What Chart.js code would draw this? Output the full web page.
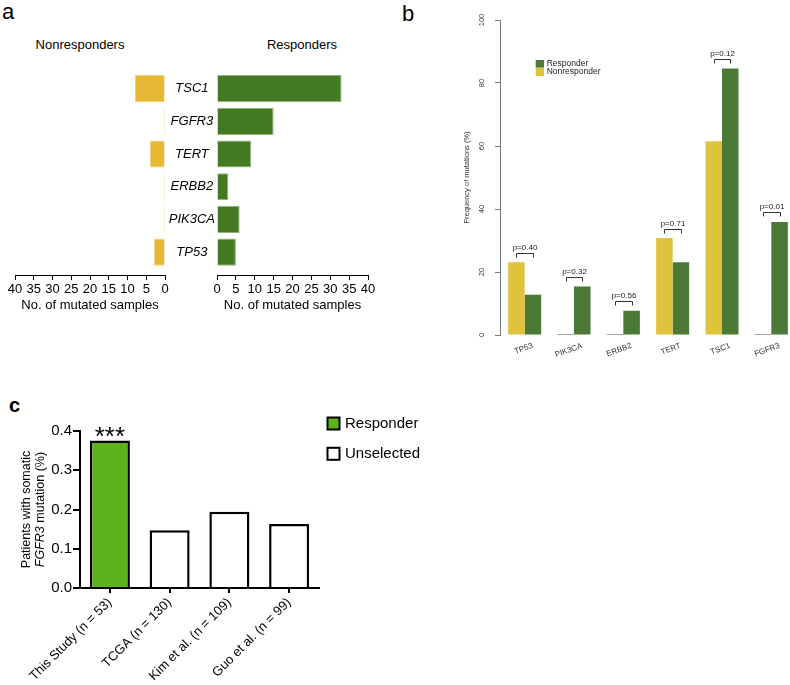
<!DOCTYPE html>
<html>
<head>
<meta charset="utf-8">
<script src="https://cdn.jsdelivr.net/npm/chart.js@4.4.1/dist/chart.umd.min.js"></script>
<style>
  body { margin:0; width:790px; height:685px; overflow:hidden; position:relative; background:#fff;
         font-family:"Liberation Sans", Arial, sans-serif; }
  canvas { position:absolute; }
  .letter { position:absolute; font-size:22px; line-height:1; color:#000; }
  .head { position:absolute; font-size:13px; line-height:1; color:#000; transform:translateX(-50%); white-space:nowrap; }
</style>
</head>
<body>
<div class="letter" style="left:2px;top:1px">a</div>
<div class="letter" style="left:402px;top:3px">b</div>
<div class="letter" style="left:9px;top:395px;font-size:20px;font-weight:bold">c</div>
<div class="head" style="left:80px;top:38px">Nonresponders</div>
<div class="head" style="left:302px;top:38px">Responders</div>

<canvas id="aLeft" width="180" height="320" style="left:0;top:0"></canvas>
<canvas id="aRight" width="240" height="320" style="left:150px;top:0"></canvas>
<canvas id="bChart" width="360" height="365" style="left:440px;top:0"></canvas>
<canvas id="cChart" width="440" height="305" style="left:0;top:380px"></canvas>

<script>
// panel a: number of mutated samples
const genesA = ['TSC1', 'FGFR3', 'TERT', 'ERBB2', 'PIK3CA', 'TP53'];
const nonRespA = [8, 0, 4, 0, 0, 3];
const respA = [33, 15, 9, 3, 6, 5];

// panel b: frequency of mutations (%)
const genesB = ['TP53', 'PIK3CA', 'ERBB2', 'TERT', 'TSC1', 'FGFR3'];
const nonRespB = [23.1, 0, 0, 30.8, 61.5, 0];
const respB = [12.8, 15.4, 7.7, 23.1, 84.6, 35.9];
const pValuesB = ['0.40', '0.32', '0.56', '0.71', '0.12', '0.01'];

// panel c: patients with somatic FGFR3 mutation
const cohortsC = ['This Study (n = 53)', 'TCGA (n = 130)', 'Kim et al. (n = 109)', 'Guo et al. (n = 99)'];
const fgfr3C = [0.376, 0.147, 0.194, 0.163];
const groupsC = ['Responder', 'Unselected'];

const FONT = '"Liberation Sans", Arial, sans-serif';
Chart.defaults.font.family = FONT;
Chart.defaults.color = '#000';
Chart.defaults.animation = false;
Chart.defaults.responsive = false;
Chart.defaults.plugins.legend.display = false;
Chart.defaults.plugins.tooltip.enabled = false;

// ---- panel a ----
function geneAxis(show) {
  const axis = {
    type: 'linear', min: -0.6, max: 5.7, reverse: true, offset: false, display: show,
    afterBuildTicks: s => { s.ticks = genesA.map((g, i) => ({ value: i })); },
    ticks: { callback: v => genesA[v], font: { size: 13, style: 'italic' }, crossAlign: 'center', padding: -6, color: '#000' },
    grid: { display: false, offset: false },
    border: { display: false }
  };
  if (show) axis.afterFit = s => { s.width = 52; };
  return axis;
}
function countAxis(rev) {
  return {
    type: 'linear', min: 0, max: 40, reverse: rev,
    ticks: { stepSize: 5, autoSkip: false, maxRotation: 0, font: { size: 13 }, padding: 2, color: '#000' },
    grid: { drawOnChartArea: false, tickLength: 5, color: '#000' },
    border: { color: '#000' },
    title: { display: true, text: 'No. of mutated samples', font: { size: 13 }, padding: { top: 0, bottom: 2 }, color: '#000' },
    afterFit: s => { s.height = 40; }
  };
}
function barsA(values, fill, edge, zero) {
  return {
    data: values.map((v, i) => ({ x: v, y: i })),
    backgroundColor: c => (c.raw && c.raw.x === 0 ? zero : fill),
    borderColor: edge,
    borderWidth: c => (c.raw && c.raw.x === 0 ? 0 : 1),
    minBarLength: 1,
    categoryPercentage: 0.83,
    barPercentage: 1
  };
}

new Chart(document.getElementById('aLeft'), {
  type: 'bar',
  data: { datasets: [barsA(nonRespA, '#e6b833', '#f0d378', '#f3e2a4')] },
  options: {
    indexAxis: 'y',
    layout: { padding: { left: 15, right: 15, top: 69, bottom: 5 } },
    scales: { x: countAxis(true), y: geneAxis(false) }
  }
});

new Chart(document.getElementById('aRight'), {
  type: 'bar',
  data: { datasets: [barsA(respA, '#437a22', '#8fb57b', '#b5cfa5')] },
  options: {
    indexAxis: 'y',
    layout: { padding: { left: 15, right: 22, top: 69, bottom: 5 } },
    scales: { x: countAxis(false), y: geneAxis(true) }
  }
});

// ---- panel b ----
const yTicksB = {
  id: 'yTicksB',
  afterDraw(chart) {
    const s = chart.scales.y, ctx = chart.ctx;
    ctx.save();
    ctx.font = '7.5px ' + FONT;
    ctx.fillStyle = '#333';
    ctx.textAlign = 'center';
    ctx.textBaseline = 'middle';
    s.ticks.forEach(t => {
      ctx.save();
      ctx.translate(s.right - 18.5, s.getPixelForValue(t.value));
      ctx.rotate(-Math.PI / 2);
      ctx.fillText(String(t.value), 0, 0);
      ctx.restore();
    });
    ctx.restore();
  }
};
const bracketsB = {
  id: 'bracketsB',
  afterDatasetsDraw(chart) {
    const ctx = chart.ctx, y = chart.scales.y;
    const m0 = chart.getDatasetMeta(0), m1 = chart.getDatasetMeta(1);
    ctx.save();
    ctx.strokeStyle = '#333';
    ctx.lineWidth = 1;
    ctx.fillStyle = '#222';
    ctx.font = '8px ' + FONT;
    ctx.textAlign = 'center';
    ctx.textBaseline = 'alphabetic';
    genesB.forEach((g, i) => {
      const x1 = Math.round(m0.data[i].x) + 0.5, x2 = Math.round(m1.data[i].x) + 0.5;
      const yy = Math.round(y.getPixelForValue(Math.max(nonRespB[i], respB[i]) + 3)) + 0.5;
      ctx.beginPath();
      ctx.moveTo(x1, yy + 4); ctx.lineTo(x1, yy); ctx.lineTo(x2, yy); ctx.lineTo(x2, yy + 4);
      ctx.stroke();
      ctx.fillText('p=' + pValuesB[i], (x1 + x2) / 2, yy - 4);
    });
    ctx.restore();
  }
};
const legendB = {
  id: 'legendB',
  afterDraw(chart) {
    const ctx = chart.ctx;
    const x = 95.7, y = 60;
    ctx.save();
    ctx.fillStyle = '#4b7a37'; ctx.fillRect(x, y, 8.3, 7.7);
    ctx.fillStyle = '#e0c33d'; ctx.fillRect(x, y + 7.7, 8.3, 8.3);
    ctx.fillStyle = '#222';
    ctx.font = '8.5px ' + FONT;
    ctx.textBaseline = 'middle';
    ctx.fillText('Responder', x + 11, y + 4);
    ctx.fillText('Nonresponder', x + 11, y + 12);
    ctx.restore();
  }
};
function barsB(label, values, fill) {
  return {
    label, data: values,
    backgroundColor: c => (c.raw === 0 ? '#444' : fill),
    minBarLength: 1,
    categoryPercentage: 0.67,
    barPercentage: 1
  };
}
new Chart(document.getElementById('bChart'), {
  type: 'bar',
  data: {
    labels: genesB,
    datasets: [barsB('Nonresponder', nonRespB, '#e0c33d'), barsB('Responder', respB, '#4b7a37')]
  },
  options: {
    layout: { padding: { left: 20, right: 4, top: 20, bottom: 0 } },
    scales: {
      x: {
        grid: { display: false }, border: { display: false },
        ticks: { font: { size: 8 }, color: '#333', minRotation: 20, maxRotation: 20, labelOffset: 8, padding: -2, autoSkip: false },
        afterFit: s => { s.height = 30; }
      },
      y: {
        min: 0, max: 100,
        ticks: { stepSize: 20, display: false },
        grid: { drawOnChartArea: false, tickLength: 5, color: '#777' },
        border: { color: '#777' },
        title: { display: true, text: 'Frequency of mutations (%)', font: { size: 7.5 }, color: '#333', padding: { top: 2, bottom: 0 } },
        afterFit: s => { s.width = 40; }
      }
    }
  },
  plugins: [yTicksB, bracketsB, legendB]
});

// ---- panel c ----
const decorC = {
  id: 'decorC',
  afterDraw(chart) {
    const ctx = chart.ctx, area = chart.chartArea;
    const bar0 = chart.getDatasetMeta(0).data[0];
    ctx.save();
    // significance stars
    ctx.fillStyle = '#000';
    ctx.font = '26px ' + FONT;
    ctx.textAlign = 'center';
    ctx.textBaseline = 'alphabetic';
    ctx.fillText('***', bar0.x, bar0.y + 5);
    // y axis title, two rotated lines
    const cy = (area.top + area.bottom) / 2;
    ctx.save();
    ctx.translate(27, cy);
    ctx.rotate(-Math.PI / 2);
    ctx.font = '12.5px ' + FONT;
    ctx.textBaseline = 'middle';
    ctx.fillText('Patients with somatic', 0, 0);
    ctx.restore();
    ctx.save();
    ctx.translate(41, cy);
    ctx.rotate(-Math.PI / 2);
    ctx.textBaseline = 'middle';
    ctx.textAlign = 'left';
    ctx.font = 'italic 12.5px ' + FONT;
    const w1 = ctx.measureText('FGFR3').width;
    ctx.font = '12.5px ' + FONT;
    const w2 = ctx.measureText(' mutation (%)').width;
    const start = -(w1 + w2) / 2;
    ctx.font = 'italic 12.5px ' + FONT;
    ctx.fillText('FGFR3', start, 0);
    ctx.font = '12.5px ' + FONT;
    ctx.fillText(' mutation (%)', start + w1, 0);
    ctx.restore();
    // legend
    const fills = ['#5db31e', '#fff'];
    ctx.lineWidth = 2;
    ctx.strokeStyle = '#000';
    ctx.font = '15px ' + FONT;
    ctx.textAlign = 'left';
    ctx.textBaseline = 'middle';
    groupsC.forEach((g, i) => {
      const y = 37.5 + i * 30.3;
      ctx.fillStyle = fills[i];
      ctx.fillRect(327.5, y, 12, 12);
      ctx.strokeRect(327.5, y, 12, 12);
      ctx.fillStyle = '#000';
      ctx.fillText(g, 345, y + 6.5);
    });
    ctx.restore();
  }
};
new Chart(document.getElementById('cChart'), {
  type: 'bar',
  data: {
    labels: cohortsC,
    datasets: [{
      data: fgfr3C,
      backgroundColor: fgfr3C.map((v, i) => (i === 0 ? '#5db31e' : '#fff')),
      borderColor: '#000',
      borderWidth: 2.5,
      categoryPercentage: 0.67,
      barPercentage: 1
    }]
  },
  options: {
    layout: { padding: { left: 0, right: 121, top: 51, bottom: 0 } },
    scales: {
      x: {
        grid: { drawOnChartArea: false, offset: false, tickLength: 5, color: '#000', lineWidth: 2 },
        border: { color: '#000', width: 2 },
        ticks: { font: { size: 13 }, color: '#000', minRotation: 45, maxRotation: 45, padding: 2, autoSkip: false },
        afterFit: s => { s.height = 97; }
      },
      y: {
        min: 0, max: 0.4,
        ticks: { stepSize: 0.1, callback: v => v.toFixed(1), font: { size: 15 }, color: '#000', padding: 1 },
        grid: { drawOnChartArea: false, tickLength: 7, color: '#000', lineWidth: 2 },
        border: { color: '#000', width: 2 },
        afterFit: s => { s.width = 80; }
      }
    }
  },
  plugins: [decorC]
});
</script>
</body>
</html>
